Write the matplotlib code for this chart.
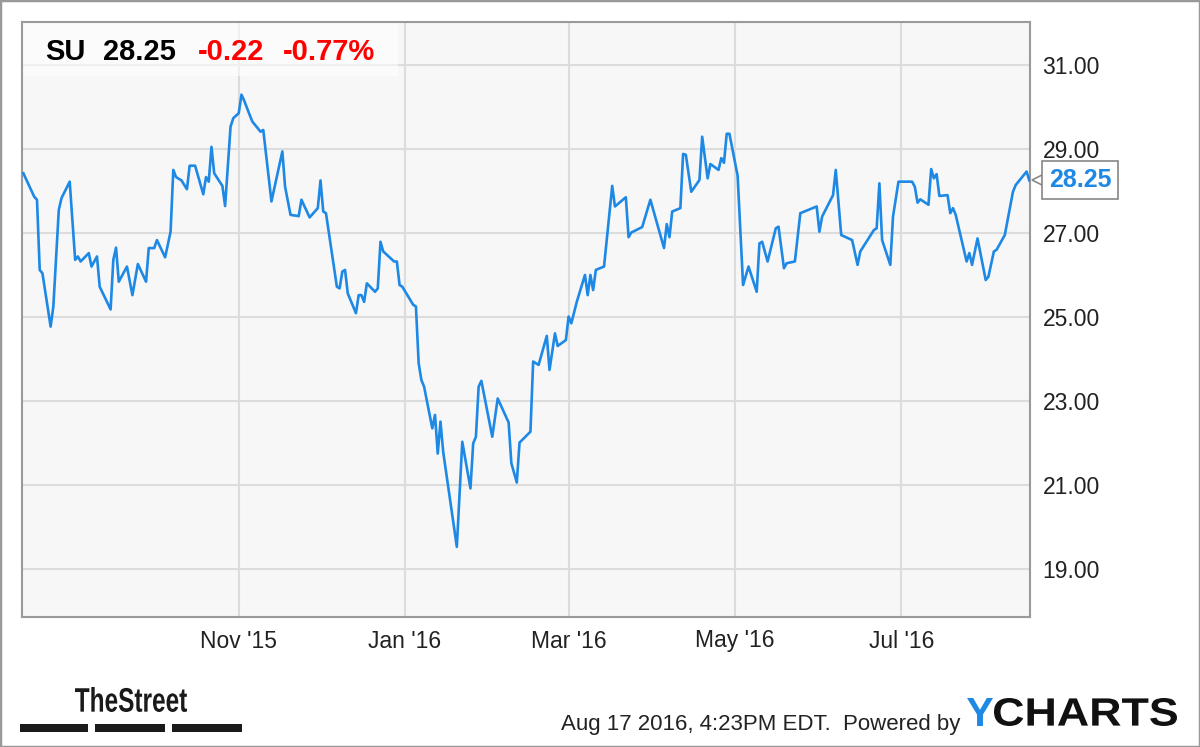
import matplotlib
matplotlib.use("Agg")
import matplotlib.pyplot as plt
import matplotlib.transforms as mtransforms
from matplotlib.patches import Rectangle, PathPatch
from matplotlib.textpath import TextPath
from matplotlib.font_manager import FontProperties
from matplotlib.ticker import FormatStrFormatter
import pandas as pd

plt.rcParams["font.family"] = ["Liberation Sans", "DejaVu Sans"]

ticker = "SU"
last_price = 28.25
change = -0.22
change_pct = -0.77

dates = [
    "2015-08-14", "2015-08-18", "2015-08-19", "2015-08-20", "2015-08-21", "2015-08-24",
    "2015-08-25", "2015-08-27", "2015-08-28", "2015-08-31", "2015-09-02", "2015-09-03",
    "2015-09-04", "2015-09-07", "2015-09-08", "2015-09-10", "2015-09-11", "2015-09-15",
    "2015-09-16", "2015-09-17", "2015-09-18", "2015-09-21", "2015-09-23", "2015-09-25",
    "2015-09-28", "2015-09-29", "2015-10-01", "2015-10-02", "2015-10-05", "2015-10-07",
    "2015-10-08", "2015-10-09", "2015-10-11", "2015-10-13", "2015-10-14", "2015-10-16",
    "2015-10-19", "2015-10-20", "2015-10-21", "2015-10-22", "2015-10-23", "2015-10-26",
    "2015-10-27", "2015-10-29", "2015-10-30", "2015-11-01", "2015-11-02", "2015-11-03",
    "2015-11-05", "2015-11-06", "2015-11-09", "2015-11-10", "2015-11-13", "2015-11-17",
    "2015-11-18", "2015-11-20", "2015-11-23", "2015-11-24", "2015-11-27", "2015-11-30",
    "2015-12-01", "2015-12-02", "2015-12-03", "2015-12-07", "2015-12-08", "2015-12-09",
    "2015-12-10", "2015-12-11", "2015-12-14", "2015-12-15", "2015-12-16", "2015-12-17",
    "2015-12-18", "2015-12-21", "2015-12-22", "2015-12-23", "2015-12-24", "2015-12-28",
    "2015-12-29", "2015-12-30", "2015-12-31", "2016-01-04", "2016-01-05", "2016-01-06",
    "2016-01-07", "2016-01-08", "2016-01-11", "2016-01-12", "2016-01-13", "2016-01-14",
    "2016-01-15", "2016-01-20", "2016-01-22", "2016-01-25", "2016-01-26", "2016-01-27",
    "2016-01-28", "2016-01-29", "2016-02-02", "2016-02-04", "2016-02-08", "2016-02-09",
    "2016-02-11", "2016-02-12", "2016-02-16", "2016-02-17", "2016-02-19", "2016-02-22",
    "2016-02-23", "2016-02-25", "2016-02-26", "2016-02-29", "2016-03-01", "2016-03-02",
    "2016-03-04", "2016-03-07", "2016-03-08", "2016-03-09", "2016-03-10", "2016-03-11",
    "2016-03-14", "2016-03-17", "2016-03-18", "2016-03-22", "2016-03-23", "2016-03-24",
    "2016-03-28", "2016-03-31", "2016-04-05", "2016-04-06", "2016-04-07", "2016-04-08",
    "2016-04-11", "2016-04-12", "2016-04-13", "2016-04-15", "2016-04-18", "2016-04-19",
    "2016-04-21", "2016-04-22", "2016-04-25", "2016-04-26", "2016-04-27", "2016-04-28",
    "2016-04-29", "2016-05-02", "2016-05-04", "2016-05-06", "2016-05-09", "2016-05-10",
    "2016-05-11", "2016-05-13", "2016-05-16", "2016-05-17", "2016-05-19", "2016-05-20",
    "2016-05-23", "2016-05-25", "2016-05-31", "2016-06-01", "2016-06-02", "2016-06-06",
    "2016-06-07", "2016-06-09", "2016-06-13", "2016-06-15", "2016-06-16", "2016-06-21",
    "2016-06-22", "2016-06-23", "2016-06-24", "2016-06-27", "2016-06-28", "2016-06-30",
    "2016-07-05", "2016-07-06", "2016-07-07", "2016-07-08", "2016-07-11", "2016-07-12",
    "2016-07-13", "2016-07-14", "2016-07-15", "2016-07-18", "2016-07-19", "2016-07-20",
    "2016-07-21", "2016-07-22", "2016-07-25", "2016-07-26", "2016-07-27", "2016-07-29",
    "2016-08-01", "2016-08-02", "2016-08-04", "2016-08-05", "2016-08-08", "2016-08-11",
    "2016-08-12", "2016-08-16", "2016-08-17",
]

prices = [
    28.42, 27.86, 27.79, 26.12, 26.04, 24.77,
    25.25, 27.55, 27.83, 28.22, 26.36, 26.44,
    26.32, 26.52, 26.20, 26.44, 25.72, 25.18,
    26.36, 26.65, 25.84, 26.20, 25.52, 26.26,
    25.84, 26.64, 26.64, 26.83, 26.42, 27.03,
    28.50, 28.33, 28.25, 28.04, 28.60, 28.60,
    27.92, 28.33, 28.22, 29.05, 28.42, 28.12,
    27.64, 29.53, 29.73, 29.85, 30.29, 30.15,
    29.81, 29.65, 29.41, 29.45, 27.75, 28.94,
    28.10, 27.43, 27.40, 27.79, 27.37, 27.59,
    28.25, 27.51, 27.47, 25.72, 25.68, 26.08,
    26.12, 25.56, 25.09, 25.52, 25.52, 25.36,
    25.80, 25.60, 25.68, 26.79, 26.56, 26.32,
    26.32, 25.76, 25.72, 25.29, 25.25, 23.90,
    23.50, 23.34, 22.35, 22.67, 21.75, 22.51,
    21.79, 19.53, 22.03, 20.92, 21.99, 22.15,
    23.34, 23.48, 22.15, 23.06, 22.49, 21.52,
    21.06, 22.01, 22.27, 23.94, 23.86, 24.55,
    23.74, 24.61, 24.31, 24.45, 25.01, 24.85,
    25.36, 26.00, 25.52, 26.00, 25.64, 26.12,
    26.20, 28.12, 27.63, 27.85, 26.90, 27.01,
    27.14, 27.79, 26.64, 27.21, 26.90, 27.51,
    27.59, 28.88, 28.86, 27.98, 28.26, 29.29,
    28.30, 28.64, 28.50, 28.78, 28.67, 29.36,
    29.36, 28.36, 25.76, 26.20, 25.60, 26.75,
    26.79, 26.32, 27.11, 27.15, 26.16, 26.28,
    26.32, 27.47, 27.63, 27.03, 27.39, 27.90,
    28.50, 26.95, 26.83, 26.24, 26.56, 27.07,
    27.11, 28.18, 26.83, 26.24, 27.39, 28.22,
    28.22, 28.10, 27.72, 27.80, 27.67, 28.52,
    28.30, 28.40, 27.88, 27.90, 27.47, 27.59,
    27.43, 27.15, 26.32, 26.52, 26.24, 26.87,
    25.88, 25.96, 26.56, 26.60, 26.95, 27.98,
    28.14, 28.46, 28.25,
]

x_ticks = ["2015-11-01", "2016-01-01", "2016-03-01", "2016-05-01", "2016-07-01"]
x_labels = ["Nov '15", "Jan '16", "Mar '16", "May '16", "Jul '16"]
y_ticks = [19, 21, 23, 25, 27, 29, 31]

BLUE = "#1e88e5"
W, H = 1200, 747

fig = plt.figure(figsize=(W / 100, H / 100), dpi=100)
fig.patch.set_facecolor("white")


def word(text, x0, x1, top, bottom, color, sx=None):
    # draw a text outline stretched into a pixel box (top-left origin)
    path = TextPath((0, 0), text, size=1,
                    prop=FontProperties(family="Liberation Sans", weight="bold"))
    ext = path.get_extents()
    sy = (bottom - top) / ext.height
    if sx is None:
        sx = (x1 - x0) / ext.width
    tr = (mtransforms.Affine2D().translate(-ext.x0, -ext.y0).scale(sx / W, sy / H)
          .translate(x0 / W, 1 - bottom / H) + fig.transFigure)
    fig.patches.append(PathPatch(path, transform=tr, facecolor=color, edgecolor="none"))
    return sx


ax = fig.add_axes([22 / W, 1 - 617 / H, 1008 / W, 595 / H])
ax.set_facecolor("#f7f7f7")
ax.plot(pd.to_datetime(dates), prices, color=BLUE, lw=1.9,
        solid_joinstyle="round", zorder=3)

ax.set_xlim(pd.Timestamp("2015-08-13 12:00"), pd.Timestamp("2016-08-17 06:00"))
ax.set_ylim(17.86, 32.02)

ax.set_xticks(pd.to_datetime(x_ticks))
ax.set_xticklabels(x_labels)
ax.set_yticks(y_ticks)
ax.yaxis.set_major_formatter(FormatStrFormatter("%.2f"))
ax.yaxis.tick_right()
ax.tick_params(axis="x", length=0, pad=9, labelsize=16.5, labelcolor="#222222")
ax.tick_params(axis="y", length=0, pad=9, labelsize=16.5, labelcolor="#222222")
ax.grid(True, color="#dcdcdc", lw=1.5)
ax.set_axisbelow(True)
for s in ax.spines.values():
    s.set_color("#9a9a9a")
    s.set_linewidth(1.5)

# header panel
ax.add_patch(Rectangle((0, 1 - 54 / 595), 376 / 1008, 54 / 595, transform=ax.transAxes,
                       facecolor="white", alpha=0.55, edgecolor="none", zorder=2))
base = 1 - 60 / H
fig.text(45 / W, base, ticker, fontsize=21, fontweight="bold", color="black", va="baseline")
fig.text(103 / W, base, f"{last_price:.2f}", fontsize=21, fontweight="bold", color="black", va="baseline")
fig.text(198 / W, base, f"{change:.2f}", fontsize=21, fontweight="bold", color="#ff0000", va="baseline")
fig.text(283 / W, base, f"{change_pct:.2f}%", fontsize=21, fontweight="bold", color="#ff0000", va="baseline")

# last price callout
trans = mtransforms.blended_transform_factory(ax.transAxes, ax.transData)
ax.plot([1.0124], [last_price], marker="<", markersize=15, mfc="white", mec="#888888",
        mew=1.2, transform=trans, clip_on=False, zorder=4)
ax.text(1.0188, last_price, f"{last_price:.2f}", transform=trans, ha="left", va="center",
        fontsize=18, fontweight="bold", color=BLUE, zorder=5,
        bbox=dict(boxstyle="square,pad=0.28", fc="white", ec="#888888", lw=1.2))

# footer
word("TheStreet", 75, 187, 687, 712, "#1a1a1a")
for x0, x1 in [(20, 88), (95, 165), (172, 242)]:
    fig.patches.append(Rectangle((x0 / W, 1 - 732 / H), (x1 - x0) / W, 8 / H,
                                 transform=fig.transFigure, facecolor="#1a1a1a",
                                 edgecolor="none"))
fig.text(561 / W, 1 - 730 / H, "Aug 17 2016, 4:23PM EDT.  Powered by", fontsize=16,
         color="#222222", va="baseline")
sx = word("CHARTS", 994, 1177, 698, 726, "#111111")
word("Y", 967, 993, 698, 726, BLUE)

# outer frame
fig.patches.append(Rectangle((0, 0), 1, 1, transform=fig.transFigure, fill=False,
                             edgecolor="#999999", lw=2.5))

fig.savefig("out.png", dpi=100)
